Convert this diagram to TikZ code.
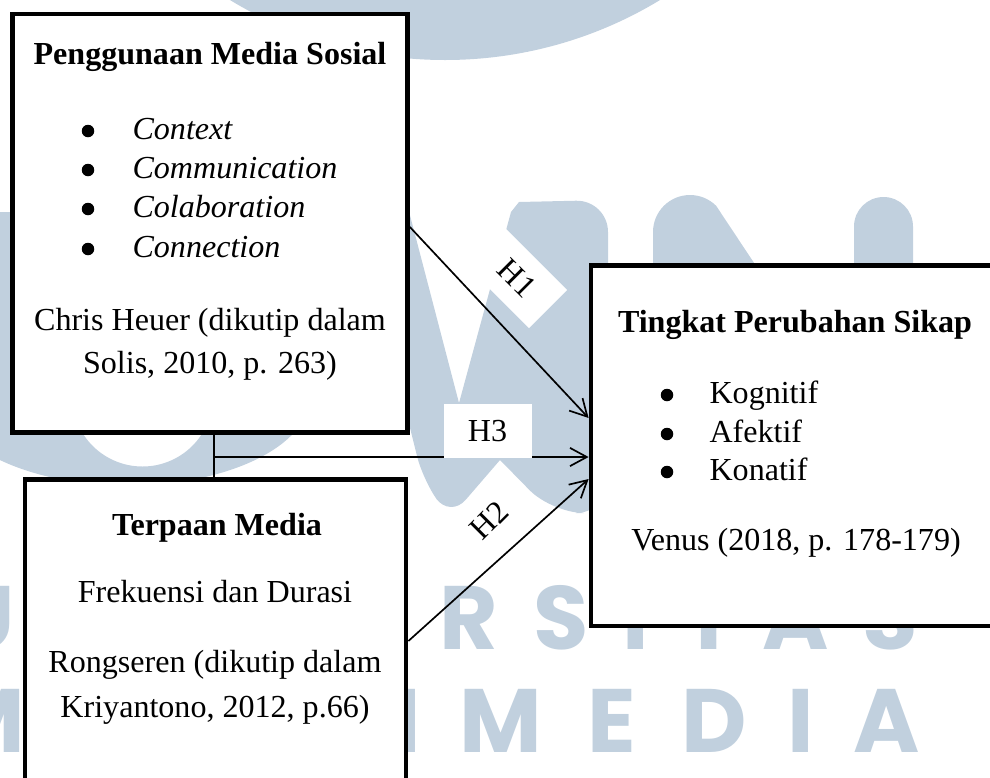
\documentclass[tikz,border=0pt]{standalone}
\usepackage{fontspec}
\setmainfont{Liberation Serif}
\newfontfamily\umnfont{Poppins}
\usetikzlibrary{arrows.meta}
\definecolor{umngrey}{RGB}{193,208,222}
\def\pxu{0.0125cm}

\begin{document}
\begin{tikzpicture}[x=\pxu, y=-\pxu,
	box/.style={draw, fill=white, line width=1.7pt, inner sep=0pt},
	txt/.style={font=\fontsize{11.4}{14}\selectfont, inner sep=0pt, anchor=base},
	ttl/.style={txt, font=\fontsize{11.4}{14}\selectfont\bfseries},
	lst/.style={txt, anchor=base west},
	itm/.style={lst, font=\fontsize{11.4}{14}\selectfont\itshape},
	dot/.style={circle, fill, inner sep=0pt, minimum size=12.5*\pxu},
	arr/.style={line width=0.6pt, -{Straight Barb[length=6pt,width=6.5pt]}},
	hyp/.style={fill=white, inner sep=0pt, minimum width=88*\pxu, minimum height=54*\pxu, font=\fontsize{11.4}{14}\selectfont},
	wm/.style={text=umngrey, font=\umnfont\bfseries\fontsize{32}{32}\selectfont, inner sep=0pt, anchor=base}]
			%%%%% START %%%%%
			\useasboundingbox (0,0) rectangle (990,777);
			\clip (0,0) rectangle (990,777);
			
			% watermark
			\fill[umngrey] (445,-355) circle[radius=415];
			\fill[umngrey, even odd rule] (-55,212) -- (-55,396) arc[start angle=180, end angle=0, x radius=182.5, y radius=89.5] -- (310,212) -- cycle
				(72,212) -- (72,396) arc[start angle=180, end angle=0, radius=70.5] -- (213,212) -- cycle;
			\fill[umngrey] (353,200) -- (406,200) -- (459,403) -- (511,212) -- (519,202) [rounded corners=0.4cm] -- (608,200) -- (608,513) -- (552,513) [sharp corners] -- (500,460) [rounded corners=0.3cm] -- (450,518) -- (423,480) [sharp corners] -- cycle;
			\fill[umngrey] (653,290) -- (653,232) arc[start angle=180, end angle=315, radius=37] -- (772,290) -- cycle;
			\fill[umngrey] (854,290) -- (854,226.5) arc[start angle=180, end angle=360, radius=29.5] -- (913,290) -- cycle;
			
			\node[wm] (w1) at (-17,649) {U};
			\node[wm] (w2) at (469,649) {R};
			\node[wm] (w3) at (561,649) {S};
			\node[wm] (w4) at (636,649) {I};
			\node[wm] (w5) at (709,649) {T};
			\node[wm] (w6) at (796,649) {A};
			\node[wm] (w7) at (890,649) {S};
			\node[wm] (w8) at (-16,752) {M};
			\node[wm] (w9) at (408,752) {I};
			\node[wm] (w10) at (501,752) {M};
			\node[wm] (w11) at (612,752) {E};
			\node[wm] (w12) at (714,752) {D};
			\node[wm] (w13) at (801,752) {I};
			\node[wm] (w14) at (887,752) {A};
			
			% boxes
			\node[box, minimum width=395*\pxu, minimum height=418.5*\pxu] (soc) at (210,223.25) {};
			\node[box, minimum width=381*\pxu, minimum height=321*\pxu] (exp) at (215.5,640) {};
			\node[box, minimum width=419*\pxu, minimum height=360.5*\pxu] (att) at (800.5,445.75) {};
			
			\node[ttl] (soct) at (210,64) {Penggunaan Media Sosial};
			\node[dot] (sd1) at (88,131) {};
			\node[itm] (si1) at (132,139) {Context};
			\node[dot] (sd2) at (88,170) {};
			\node[itm] (si2) at (132,178) {Communication};
			\node[dot] (sd3) at (88,209) {};
			\node[itm] (si3) at (132,217) {Colaboration};
			\node[dot] (sd4) at (88,249) {};
			\node[itm] (si4) at (132,257) {Connection};
			\node[txt] (socc1) at (210,330) {Chris Heuer (dikutip dalam};
			\node[txt] (socc2) at (210,373) {Solis, 2010, p. 263)};
			
			\node[ttl] (expt) at (217,535) {Terpaan Media};
			\node[txt] (expi) at (215,602) {Frekuensi dan Durasi};
			\node[txt] (expc1) at (215,672) {Rongseren (dikutip dalam};
			\node[txt] (expc2) at (215,717) {Kriyantono, 2012, p.66)};
			
			\node[ttl] (attt) at (795,332) {Tingkat Perubahan Sikap};
			\node[dot] (ad1) at (667,395) {};
			\node[lst] (ai1) at (709,403) {Kognitif};
			\node[dot] (ad2) at (667,434) {};
			\node[lst] (ai2) at (709,442) {Afektif};
			\node[dot] (ad3) at (667,472) {};
			\node[lst] (ai3) at (709,480) {Konatif};
			\node[txt] (attc) at (796,550) {Venus (2018, p. 178-179)};
			
			% connectors
			\coordinate (mid) at (214,457);
			\coordinate (p1) at (0,227);
			\coordinate (p1e) at (0,418);
			\coordinate (p2) at (0,641);
			\coordinate (p2e) at (0,479);
			\draw[line width=0.6pt] (soc.south -| mid) -- (exp.north -| mid);
			\draw[arr] (mid) -- (att.west |- mid);
			\draw[arr] (soc.east |- p1) -- (att.west |- p1e);
			\draw[arr] (exp.east |- p2) -- (att.west |- p2e);
			
			\node[hyp, rotate=-45] (h1) at (517,278) {H1};
			\node[hyp] (h3) at (487.5,431) {H3};
			\node[hyp, rotate=45] (h2) at (489,520) {H2};
			%%%%% END %%%%%
\end{tikzpicture}
\end{document}
